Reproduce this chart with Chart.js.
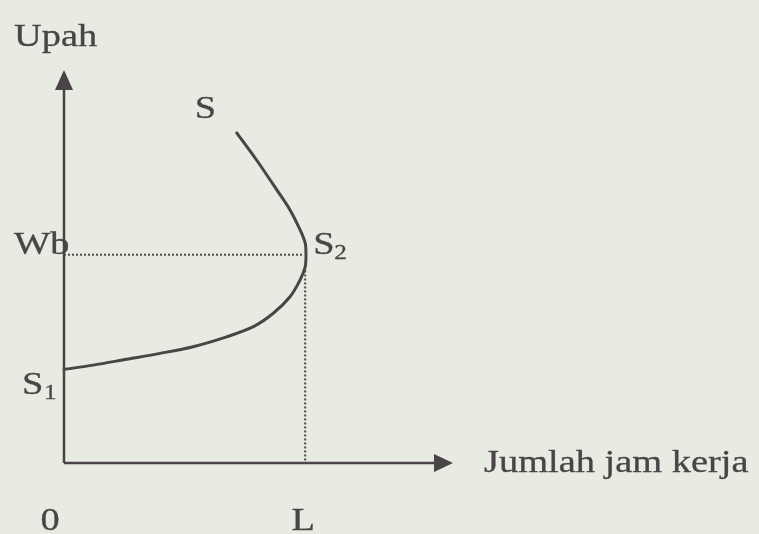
<!DOCTYPE html>
<html>
<head>
<meta charset="utf-8">
<script src="https://cdn.jsdelivr.net/npm/chart.js@4"></script>
<style>
html,body{margin:0;padding:0;background:#e8ebe2;}
#wrap{width:759px;height:534px;}
</style>
</head>
<body>
<div id="wrap"><canvas id="c" width="759" height="534"></canvas></div>
<script>
// Backward-bending labour supply curve (hours worked vs wage)
const curveHours = [0, 0.75, 1.61, 2.47, 3.32, 4.18, 4.87, 5.38, 5.81, 6.07, 6.20, 6.22, 6.20, 6.07, 5.81, 5.47, 4.95, 4.44];
const curveWage  = [2.38, 2.49, 2.64, 2.79, 2.96, 3.21, 3.47, 3.81, 4.23, 4.66, 4.99, 5.32, 5.60, 5.93, 6.44, 6.95, 7.71, 8.40];
const wageWb = 5.3;         // Wb
const hoursL = 6.2;         // L
const dottedTopL = 4.9;     // dotted line from curve down to axis
const axisMax = 10;
const labelsText = { yTitle: "Upah", xTitle: "Jumlah jam kerja", curve: "S", wb: "Wb", s2: "S", s2sub: "2", s1: "S", s1sub: "1", origin: "0", l: "L" };

const INK = "#4a4446";
const curvePoints = curveHours.map((h, i) => ({ x: h, y: curveWage[i] }));

const bgPlugin = {
  id: "bg",
  beforeDraw(chart) {
    const ctx = chart.ctx;
    ctx.save();
    ctx.fillStyle = "#e8ebe2";
    ctx.fillRect(0, 0, chart.width, chart.height);
    ctx.restore();
  }
};

function txt(ctx, s, x, y, size, align) {
  ctx.save();
  ctx.font = size + "px 'Liberation Serif', 'Times New Roman', serif";
  ctx.fillStyle = INK;
  ctx.strokeStyle = INK;
  ctx.lineWidth = 0.3;
  ctx.textBaseline = "alphabetic";
  ctx.translate(x, y);
  ctx.scale(1.2, 1);
  ctx.textAlign = align || "left";
  ctx.fillText(s, 0, 0);
  ctx.strokeText(s, 0, 0);
  ctx.restore();
}

const annotPlugin = {
  id: "annot",
  afterDatasetsDraw(chart) {
    const ctx = chart.ctx;
    const xs = chart.scales.x, ys = chart.scales.y;
    const ox = xs.getPixelForValue(0), oy = ys.getPixelForValue(0);
    const top = ys.getPixelForValue(axisMax), right = xs.getPixelForValue(axisMax);
    const wbY = ys.getPixelForValue(wageWb), lX = xs.getPixelForValue(hoursL);
    const sX = xs.getPixelForValue(curveHours[curveHours.length - 1]);
    const sY = ys.getPixelForValue(curveWage[curveWage.length - 1]);
    const s1Y = ys.getPixelForValue(curveWage[0]);
    // arrowheads
    ctx.save();
    ctx.fillStyle = INK;
    ctx.beginPath();
    ctx.moveTo(ox, top);
    ctx.lineTo(ox - 9, top + 20);
    ctx.lineTo(ox + 9, top + 20);
    ctx.closePath();
    ctx.fill();
    ctx.beginPath();
    ctx.moveTo(right, oy);
    ctx.lineTo(right - 19, oy - 9);
    ctx.lineTo(right - 19, oy + 9);
    ctx.closePath();
    ctx.fill();
    ctx.restore();
    // labels
    txt(ctx, labelsText.yTitle, ox - 50, top - 24, 32);
    txt(ctx, labelsText.curve, sX - 42, sY - 15, 32);
    txt(ctx, labelsText.wb, ox - 50, wbY - 1, 32);
    txt(ctx, labelsText.s2, lX + 8, wbY - 1, 32);
    txt(ctx, labelsText.s2sub, lX + 29, wbY + 4, 21);
    txt(ctx, labelsText.s1, ox - 42, s1Y + 25, 32);
    txt(ctx, labelsText.s1sub, ox - 20, s1Y + 30, 21);
    txt(ctx, labelsText.origin, ox - 14, oy + 67, 32, "center");
    txt(ctx, labelsText.l, lX - 2, oy + 67, 32, "center");
    txt(ctx, labelsText.xTitle, right + 31, oy + 9, 32);
  }
};

new Chart(document.getElementById("c"), {
  type: "scatter",
  data: {
    datasets: [
      { // y axis
        data: [{ x: 0, y: 0 }, { x: 0, y: axisMax - 0.3 }],
        showLine: true, borderColor: INK, borderWidth: 2.5, pointRadius: 0, tension: 0
      },
      { // x axis
        data: [{ x: 0, y: 0 }, { x: axisMax - 0.3, y: 0 }],
        showLine: true, borderColor: INK, borderWidth: 2.5, pointRadius: 0, tension: 0
      },
      { // Wb dotted
        data: [{ x: 0, y: wageWb }, { x: hoursL - 0.05, y: wageWb }],
        showLine: true, borderColor: "#4f4a4b", borderWidth: 2, borderDash: [2, 2], pointRadius: 0, tension: 0
      },
      { // L dotted
        data: [{ x: hoursL, y: dottedTopL }, { x: hoursL, y: 0 }],
        showLine: true, borderColor: "#4f4a4b", borderWidth: 2, borderDash: [2, 2], pointRadius: 0, tension: 0
      },
      { // supply curve
        data: curvePoints,
        showLine: true, borderColor: INK, borderWidth: 3, pointRadius: 0, tension: 0.3, borderCapStyle: "round"
      }
    ]
  },
  options: {
    responsive: false,
    animation: false,
    layout: { padding: 0 },
    plugins: { legend: { display: false }, tooltip: { enabled: false } },
    scales: {
      x: { type: "linear", display: false, min: -64 / 38.9, max: (759 - 64) / 38.9 },
      y: { type: "linear", display: false, min: -(534 - 463) / 39.3, max: 463 / 39.3 }
    }
  },
  plugins: [bgPlugin, annotPlugin]
});
</script>
</body>
</html>
